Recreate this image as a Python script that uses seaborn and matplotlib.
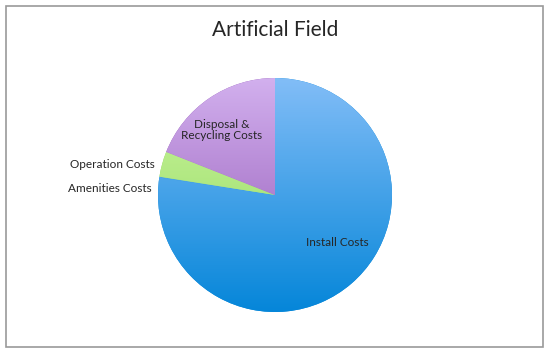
import numpy as np
import matplotlib
matplotlib.use("Agg")
import matplotlib.pyplot as plt
import seaborn as sns
from matplotlib.colors import LinearSegmentedColormap
from matplotlib.patches import Rectangle

sns.set_style("white")
plt.rcParams['font.family'] = ['Lato', 'DejaVu Sans']

labels = ["Install Costs", "Amenities Costs", "Operation Costs", "Disposal &\nRecycling Costs"]
shares = [77.4, 0.1, 3.5, 19.0]
# light (top) -> dark (bottom) for each slice
grad_colors = [("#82bdf7", "#0586d9"),
               ("#82bdf7", "#0586d9"),
               ("#cdf7a0", "#8ed65c"),
               ("#d2b0ee", "#8f52b3")]

fig = plt.figure(figsize=(5.5, 3.54), dpi=100)
ax = fig.add_axes([0, 0, 1, 1])
ax.set_xlim(0, 550)
ax.set_ylim(0, 354)
ax.axis("off")

cx, cy, r = 275, 159, 117
wedges, _ = ax.pie(shares, startangle=90, counterclock=False,
                   center=(cx, cy), radius=r, frame=True,
                   colors=[c[1] for c in grad_colors],
                   wedgeprops=dict(linewidth=0))
ax.set_xlim(0, 550)
ax.set_ylim(0, 354)
ax.set_aspect("equal")
ax.axis("off")

grad = np.linspace(0, 1, 256).reshape(-1, 1)
for w, (c_top, c_bot) in zip(wedges, grad_colors):
    cmap = LinearSegmentedColormap.from_list("g", [c_top, c_bot])
    im = ax.imshow(grad, cmap=cmap, aspect="auto", origin="upper",
                   extent=(cx - r, cx + r, cy - r, cy + r), zorder=2)
    im.set_clip_path(w)

# slice labels
ax.text(337, 354 - 242, "Install Costs", ha="center", va="center", fontsize=8.5, zorder=3)
ax.text(222, 354 - 130, labels[3], ha="center", va="center", fontsize=8.5,
        linespacing=1.1, zorder=3)
ax.text(155, 354 - 165, "Operation Costs", ha="right", va="center", fontsize=8.5, zorder=3)
ax.text(152, 354 - 188, "Amenities Costs", ha="right", va="center", fontsize=8.5, zorder=3)

ax.text(275, 354 - 30, "Artificial Field", ha="center", va="center", fontsize=15)

ax.add_patch(Rectangle((6, 7), 537, 341, fill=False, edgecolor="#9a9a9a", linewidth=1.2))

fig.savefig("out.png", dpi=100)
